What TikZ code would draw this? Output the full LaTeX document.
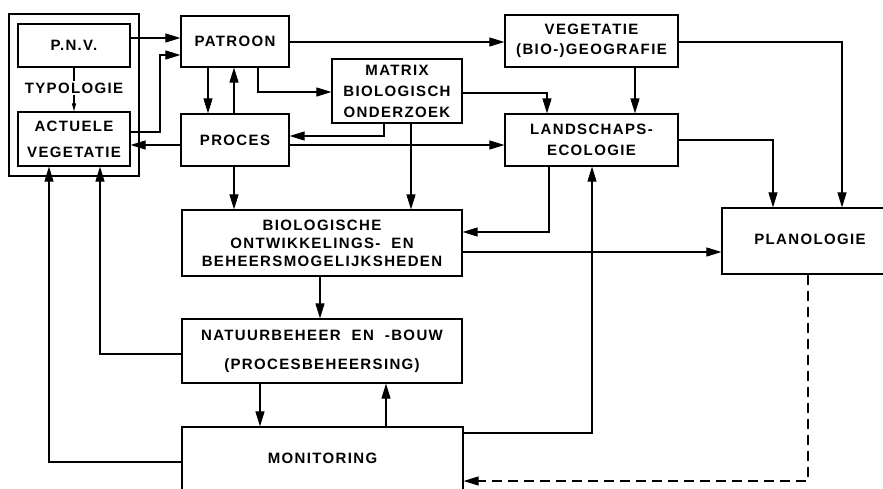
\documentclass[tikz,border=0pt]{standalone}
\usepackage{fontspec}
\newfontfamily\df{Liberation Sans}[LetterSpace=9]
\usetikzlibrary{arrows.meta}
\tikzset{
  box/.style={draw, line width=1.2pt, rectangle, inner sep=0pt, align=center,
    font=\df\bfseries\fontsize{15}{18}\selectfont},
  frame/.style={draw, line width=2.6pt, rectangle, inner sep=0pt},
  lbl/.style={inner sep=1pt, font=\df\bfseries\fontsize{15}{18}\selectfont},
  arr/.style={line width=1.1pt, -{Triangle[length=15pt,width=9pt]}},
  sarr/.style={line width=1.1pt, -{Triangle[length=8pt,width=4pt]}},
  ln/.style={line width=1.1pt},
  dsh/.style={line width=1.1pt, dash pattern=on 10pt off 6pt, -{Triangle[length=15pt,width=9pt]}}
}
\begin{document}
\begin{tikzpicture}[x=1pt,y=-1pt]
\useasboundingbox (0,0) rectangle (883,488);
\clip (0,0) rectangle (883,488);
% boxes
\node[frame, minimum width=130pt, minimum height=162pt] (outer) at (74,95) {};
\node[box, minimum width=112pt, minimum height=43pt] (pnv) at (74,45.5) {P.N.V.};
\node[lbl] (typ) at (74,88) {TYPOLOGIE};
\node[box, minimum width=112pt, minimum height=54pt] (act) at (74,139) {ACTUELE\\[8pt]VEGETATIE};
\node[box, minimum width=108pt, minimum height=51pt] (patroon) at (235,41.5) {PATROON};
\node[box, minimum width=108pt, minimum height=52pt] (proces) at (235,140) {PROCES};
\node[box, minimum width=130pt, minimum height=64pt] (matrix) at (397,91) {MATRIX\\[3pt]BIOLOGISCH\\[3pt]ONDERZOEK};
\node[box, minimum width=173pt, minimum height=52pt] (veg) at (591.5,41) {VEGETATIE\\[2pt](BIO-)GEOGRAFIE};
\node[box, minimum width=173pt, minimum height=52pt] (land) at (591.5,140) {LANDSCHAPS-\\[3pt]ECOLOGIE};
\node[box, minimum width=280pt, minimum height=66pt] (bio) at (322,243) {BIOLOGISCHE\\ONTWIKKELINGS- \ EN\\BEHEERSMOGELIJKSHEDEN};
\node[box, minimum width=168pt, minimum height=66pt] (plan) at (806,241) {\raisebox{4pt}{\hspace*{8pt}PLANOLOGIE}};
\node[box, minimum width=280pt, minimum height=64pt] (natuur) at (322,351) {NATUURBEHEER \ EN \ -BOUW\\[11pt](PROCESBEHEERSING)};
\node[box, minimum width=281pt, minimum height=68pt] (mon) at (322.5,461) {\raisebox{6pt}{MONITORING}};
% connectors
\draw[arr] (pnv.east |- 0,38) -- (patroon.west |- 0,38);
\draw[ln] (pnv.south) -- (typ.north);
\draw[sarr] (typ.south) -- (act.north);
\draw[arr] (act.east |- 0,132) -| (160,55) -- (patroon.west |- 0,55);
\draw[arr] (patroon.south -| 208,0) -- (proces.north -| 208,0);
\draw[arr] (proces.north -| 234,0) -- (patroon.south -| 234,0);
\draw[arr] (proces.west |- 0,145) -- (act.east |- 0,145);
\draw[arr] (proces.south -| 234,0) -- (bio.north -| 234,0);
\draw[arr] (patroon.east |- 0,42) -- (veg.west |- 0,42);
\draw[arr] (patroon.south -| 258,0) |- (matrix.west |- 0,92);
\draw[arr] (matrix.south -| 384,0) |- (proces.east |- 0,136);
\draw[arr] (proces.east |- 0,145) -- (land.west |- 0,145);
\draw[arr] (matrix.east |- 0,93) -| (land.north -| 547,0);
\draw[arr] (matrix.south -| 411,0) -- (bio.north -| 411,0);
\draw[arr] (veg.south -| 635,0) -- (land.north -| 635,0);
\draw[arr] (veg.east |- 0,42) -| (plan.north -| 842,0);
\draw[arr] (land.east |- 0,140) -| (plan.north -| 773,0);
\draw[arr] (land.south -| 549,0) |- (bio.east |- 0,232);
\draw[arr] (bio.east |- 0,252) -- (plan.west |- 0,252);
\draw[arr] (bio.south -| 320,0) -- (natuur.north -| 320,0);
\draw[arr] (natuur.west |- 0,354) -| (act.south -| 100,0);
\draw[arr] (natuur.south -| 260,0) -- (mon.north -| 260,0);
\draw[arr] (mon.north -| 386,0) -- (natuur.south -| 386,0);
\draw[arr] (mon.west |- 0,462) -| (act.south -| 49,0);
\draw[arr] (mon.east |- 0,433) -| (land.south -| 592,0);
\draw[dsh] (plan.south -| 808,0) |- (mon.east |- 0,481);
\end{tikzpicture}
\end{document}
